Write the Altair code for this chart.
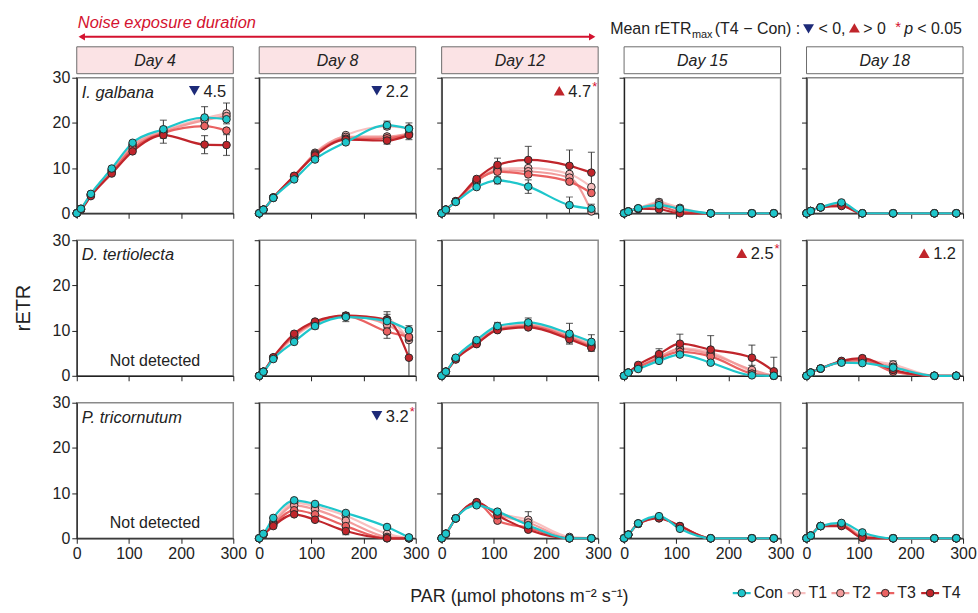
import altair as alt
import pandas as pd

FONT = "Liberation Sans"

PAR = [0, 8, 27, 67, 107, 166, 245, 287]
DRAW_ORDER = ["T1", "T2", "T3", "T4", "Con"]
LEGEND_ORDER = ["Con", "T1", "T2", "T3", "T4"]
SERIES_COLORS = ["#1ec6cb", "#f8c0c0", "#f29c9c", "#ea6262", "#c0252b"]
DAYS = ["Day 4", "Day 8", "Day 12", "Day 15", "Day 18"]
SPECIES = ["I. galbana", "D. tertiolecta", "P. tricornutum"]

# ---------------- I. galbana ----------------
ig_d4 = {
    "Con": [0, 1.0, 4.3, 9.9, 15.6, 18.6, 21.2, 20.8],
    "T1": [0, 1.0, 4.2, 9.6, 15.2, 18.3, 21.0, 22.1],
    "T2": [0, 0.9, 4.1, 9.4, 14.9, 18.0, 20.6, 21.5],
    "T3": [0, 0.9, 4.0, 9.1, 14.3, 17.8, 19.3, 18.3],
    "T4": [0, 0.8, 3.8, 8.8, 13.7, 17.3, 15.2, 15.1],
}
ig_d4_err = {
    "Con": [0, 0, 0, 0, 0, 2.0, 2.4, 0],
    "T1": [0, 0, 0, 0, 0, 0, 0, 2.3],
    "T4": [0, 0, 0, 0, 0, 1.8, 2.0, 2.3],
}
ig_d8 = {
    "Con": [0, 0.8, 3.4, 7.5, 11.9, 15.7, 19.5, 18.7],
    "T1": [0, 0.8, 3.5, 8.0, 13.4, 17.3, 19.2, 18.8],
    "T2": [0, 0.8, 3.5, 8.1, 13.2, 16.9, 17.0, 17.6],
    "T3": [0, 0.8, 3.5, 8.2, 13.0, 16.5, 16.6, 17.4],
    "T4": [0, 0.8, 3.4, 8.3, 12.8, 16.3, 16.1, 17.3],
}
ig_d8_err = {
    "Con": [0, 0, 0, 0, 0, 0, 0.9, 1.3],
    "T4": [0, 0, 0, 0, 0, 0, 0.8, 1.0],
}
ig_d12 = {
    "Con": [0, 0.8, 2.5, 5.8, 7.3, 5.9, 1.8, 1.0],
    "T1": [0, 0.8, 2.6, 7.0, 9.9, 10.0, 8.7, 5.8],
    "T2": [0, 0.8, 2.6, 7.0, 9.5, 9.3, 7.9, 0.4],
    "T3": [0, 0.8, 2.6, 7.2, 9.2, 8.6, 7.0, 4.5],
    "T4": [0, 0.8, 2.7, 7.6, 10.7, 11.8, 10.5, 9.0],
}
ig_d12_err = {
    "Con": [0, 0, 0, 0, 0.8, 1.5, 1.8, 1.0],
    "T4": [0, 0, 0, 0, 1.5, 3.0, 3.5, 4.5],
}
ig_d15 = {
    "Con": [0, 0.4, 1.1, 1.8, 1.0, 0, 0, 0],
    "T1": [0, 0.4, 1.1, 2.5, 1.2, 0, 0, 0],
    "T2": [0, 0.4, 1.0, 2.2, 0.8, 0, 0, 0],
    "T3": [0, 0.4, 1.0, 1.5, 0.3, 0, 0, 0],
    "T4": [0, 0.4, 1.0, 0.9, 0, 0, 0, 0],
}
ig_d15_err = {
    "Con": [0, 0, 0, 0.5, 0.7, 0, 0, 0],
    "T1": [0, 0, 0, 0.6, 0, 0, 0, 0],
}
ig_d18 = {
    "Con": [0, 0.5, 1.3, 2.4, 0, 0, 0, 0],
    "T1": [0, 0.5, 1.3, 2.1, 0, 0, 0, 0],
    "T2": [0, 0.5, 1.3, 2.0, 0, 0, 0, 0],
    "T3": [0, 0.5, 1.3, 1.8, 0, 0, 0, 0],
    "T4": [0, 0.5, 1.3, 1.6, 0, 0, 0, 0],
}
ig_d18_err = {"Con": [0, 0, 0, 0.3, 0, 0, 0, 0]}

# ---------------- D. tertiolecta ----------------
dt_d8 = {
    "Con": [0, 0.9, 3.7, 7.5, 11.0, 13.0, 12.1, 10.1],
    "T1": [0, 0.9, 3.9, 8.5, 11.6, 13.2, 12.5, 7.9],
    "T2": [0, 0.9, 4.0, 8.8, 11.8, 13.3, 11.3, 8.4],
    "T3": [0, 0.9, 4.0, 9.0, 11.8, 13.2, 9.8, 8.6],
    "T4": [0, 0.9, 4.1, 9.3, 12.0, 13.3, 12.4, 4.0],
}
dt_d8_err = {
    "Con": [0, 0, 0, 0, 0.6, 1.0, 1.5, 1.0],
    "T3": [0, 0, 0, 0, 0, 0, 1.5, 0],
    "T4": [0, 0, 0, 0, 0, 0, 1.8, 4.0],
}
dt_d12 = {
    "Con": [0, 0.9, 4.0, 7.9, 11.0, 11.8, 9.3, 7.5],
    "T1": [0, 0.9, 3.9, 7.6, 10.7, 11.4, 9.0, 7.0],
    "T2": [0, 0.9, 3.8, 7.4, 10.4, 11.2, 8.7, 6.7],
    "T3": [0, 0.9, 3.7, 7.2, 10.2, 11.0, 8.4, 6.4],
    "T4": [0, 0.9, 3.6, 7.0, 10.1, 10.7, 8.1, 6.2],
}
dt_d12_err = {
    "Con": [0, 0, 0, 0, 0.8, 1.0, 2.3, 1.6],
    "T4": [0, 0, 0, 0, 0, 0, 0.8, 0.8],
}
dt_d15 = {
    "Con": [0, 0.7, 1.5, 3.3, 4.7, 2.9, 0.1, 0],
    "T1": [0, 0.7, 1.8, 4.0, 6.1, 5.2, 1.0, 0],
    "T2": [0, 0.7, 1.9, 4.2, 5.9, 4.8, 1.3, 0],
    "T3": [0, 0.7, 1.9, 3.9, 5.3, 4.3, 0.5, 0],
    "T4": [0, 0.7, 2.4, 4.8, 7.1, 5.8, 4.0, 1.0],
}
dt_d15_err = {
    "T2": [0, 0, 0, 0, 0, 0, 1.0, 0],
    "T4": [0, 0, 0, 1.2, 2.1, 3.1, 2.8, 3.1],
}
dt_d18 = {
    "Con": [0, 0.7, 1.6, 2.9, 2.8, 1.8, 0, 0],
    "T1": [0, 0.7, 1.6, 3.1, 3.4, 2.5, 0, 0],
    "T2": [0, 0.7, 1.6, 3.0, 3.3, 2.0, 0, 0],
    "T3": [0, 0.7, 1.6, 3.1, 3.5, 0.9, 0, 0],
    "T4": [0, 0.7, 1.6, 3.3, 3.9, 1.3, 0, 0],
}
dt_d18_err = {
    "T1": [0, 0, 0, 0, 0, 0.8, 0, 0],
    "T4": [0, 0, 0, 0, 0.5, 0, 0, 0],
}

# ---------------- P. tricornutum ----------------
pt_d8 = {
    "Con": [0, 1.0, 4.5, 8.4, 7.6, 5.6, 2.5, 0.2],
    "T1": [0, 0.9, 3.6, 7.9, 7.1, 5.0, 1.0, 0],
    "T2": [0, 0.9, 3.3, 7.3, 6.4, 3.9, 0.3, 0],
    "T3": [0, 0.9, 3.0, 6.2, 5.3, 2.7, 0, 0],
    "T4": [0, 0.8, 2.7, 5.3, 4.1, 1.6, 0, 0],
}
pt_d8_err = {"T4": [0, 0, 0, 0, 0, 0.8, 0, 0]}
pt_d12 = {
    "Con": [0, 1.0, 4.4, 7.3, 5.9, 2.9, 0, 0],
    "T1": [0, 1.0, 4.4, 7.6, 5.6, 4.1, 0.3, 0],
    "T2": [0, 1.0, 4.4, 7.9, 5.3, 3.5, 0, 0],
    "T3": [0, 1.0, 4.4, 7.8, 3.9, 2.3, 0, 0],
    "T4": [0, 1.0, 4.4, 8.0, 5.1, 1.9, 0, 0],
}
pt_d12_err = {"T1": [0, 0, 0, 0, 0.6, 1.8, 0, 0]}
pt_d15 = {
    "Con": [0, 0.8, 3.3, 4.9, 2.1, 0, 0, 0],
    "T1": [0, 0.8, 3.3, 4.7, 2.5, 0, 0, 0],
    "T2": [0, 0.8, 3.2, 4.6, 2.6, 0, 0, 0],
    "T3": [0, 0.8, 3.2, 4.5, 2.7, 0, 0, 0],
    "T4": [0, 0.8, 3.2, 4.4, 2.7, 0, 0, 0],
}
pt_d15_err = {}
pt_d18 = {
    "Con": [0, 0.6, 2.7, 3.4, 1.3, 0, 0, 0],
    "T1": [0, 0.6, 2.7, 3.2, 0.6, 0, 0, 0],
    "T2": [0, 0.6, 2.7, 3.0, 0.4, 0, 0, 0],
    "T3": [0, 0.6, 2.7, 3.0, 0.2, 0, 0, 0],
    "T4": [0, 0.6, 2.7, 2.7, 0.1, 0, 0, 0],
}
pt_d18_err = {}

PANELS = {
    (0, 0): (ig_d4, ig_d4_err), (0, 1): (ig_d8, ig_d8_err), (0, 2): (ig_d12, ig_d12_err),
    (0, 3): (ig_d15, ig_d15_err), (0, 4): (ig_d18, ig_d18_err),
    (1, 1): (dt_d8, dt_d8_err), (1, 2): (dt_d12, dt_d12_err),
    (1, 3): (dt_d15, dt_d15_err), (1, 4): (dt_d18, dt_d18_err),
    (2, 1): (pt_d8, pt_d8_err), (2, 2): (pt_d12, pt_d12_err),
    (2, 3): (pt_d15, pt_d15_err), (2, 4): (pt_d18, pt_d18_err),
}

# Mean rETRmax (T4 - Con): direction, value, significant
ANNOT = {
    (0, 0): ("down", "4.5", False),
    (0, 1): ("down", "2.2", False),
    (0, 2): ("up", "4.7", True),
    (1, 3): ("up", "2.5", True),
    (1, 4): ("up", "1.2", False),
    (2, 1): ("down", "3.2", True),
}

NAVY = "#1d2a78"
DARKRED = "#c0252b"
ACCENT = "#d4122f"
INK = "#222222"

W, H = 157, 136
DUMMY = pd.DataFrame({"d": [0]})
xs = alt.Scale(domain=[0, 300], nice=False, zero=False)
ys = alt.Scale(domain=[0, 30], nice=False)
cscale = alt.Scale(domain=LEGEND_ORDER, range=SERIES_COLORS)


def long_df(vals):
    rows = []
    for s in DRAW_ORDER:
        for p, v in zip(PAR, vals[s]):
            rows.append({"series": s, "par": p, "retr": v})
    return pd.DataFrame(rows)


def err_df(vals, errs):
    rows = []
    for s, el in errs.items():
        for p, v, e in zip(PAR, vals[s], el):
            if e > 0:
                rows.append({"series": s, "par": p, "lo": max(0.0, v - e), "hi": v + e})
    return pd.DataFrame(rows, columns=["series", "par", "lo", "hi"])


def tx(text, x, y, size=16, color=INK, style="normal", align="left", baseline="alphabetic", angle=0):
    return alt.Chart(DUMMY).mark_text(text=text, font=FONT, fontSize=size, color=color, fontStyle=style,
                                      align=align, baseline=baseline, angle=angle).encode(
        x=alt.value(x), y=alt.value(y))


def sym(shape, x, y, color, size=100):
    return alt.Chart(DUMMY).mark_point(shape=shape, filled=True, size=size, opacity=1, color=color,
                                       strokeWidth=0).encode(x=alt.value(x), y=alt.value(y))


def top_decor():
    # invisible frame fixing the page extent (0,0)-(978,613) relative to the first panel
    frame = alt.Chart(DUMMY).mark_rect(opacity=0).encode(
        x=alt.value(-76), x2=alt.value(902), y=alt.value(-76), y2=alt.value(537))
    return [
        frame,
        tx("Noise exposure duration", 1, -50, size=16.5, color=ACCENT, style="italic"),
        alt.Chart(DUMMY).mark_rule(color=ACCENT, strokeWidth=2).encode(
            x=alt.value(4), x2=alt.value(518), y=alt.value(-41)),
        sym("triangle-left", 5, -41, ACCENT, 55),
        sym("triangle-right", 517, -41, ACCENT, 55),
        tx("Mean rETR", 535, -44),
        tx("max", 617, -40, size=11),
        tx("(T4 − Con) :", 640, -44),
        sym("triangle-down", 734, -49, NAVY, 120),
        tx("< 0,", 744, -44),
        sym("triangle-up", 780, -50, DARKRED, 120),
        tx("> 0", 789, -44),
        tx("*", 821, -46, size=15, color=ACCENT),
        tx("p", 830, -44, style="italic"),
        tx("< 0.05", 843, -44),
    ]


LEG_CX = [667, 722, 766, 811, 856]
legend_df = pd.DataFrame({
    "series": LEGEND_ORDER,
    "cx": LEG_CX,
    "x1": [v - 9 for v in LEG_CX],
    "x2": [v + 9 for v in LEG_CX],
    "tx": [v + 12 for v in LEG_CX],
})


def bottom_decor():
    ly = 191
    return [
        tx("PAR (µmol photons m⁻² s⁻¹)", 444, 200, size=18, align="center"),
        alt.Chart(legend_df).mark_rule(strokeWidth=2.2).encode(
            x=alt.X("x1:Q", scale=None), x2="x2:Q", y=alt.value(ly),
            color=alt.Color("series:N", scale=cscale, legend=None)),
        alt.Chart(legend_df).mark_circle(size=58, stroke="#2a2a2a", strokeWidth=1, opacity=1).encode(
            x=alt.X("cx:Q", scale=None), y=alt.value(ly),
            fill=alt.Fill("series:N", scale=cscale, legend=None)),
        alt.Chart(legend_df).mark_text(font=FONT, fontSize=16, color=INK, align="left", baseline="middle").encode(
            x=alt.X("tx:Q", scale=None), y=alt.value(ly), text="series:N"),
    ]


def make_panel(r, c):
    xaxis = alt.Axis(values=[0, 100, 200, 300], labels=(r == 2), title=None, labelFlush=False)
    yaxis = alt.Axis(values=[0, 10, 20, 30], labels=(c == 0), title=None)
    layers = []
    if r == 0 and c == 0:
        layers += top_decor()
    if r == 0:
        fill = "#fbe3e5" if c < 3 else "#ffffff"
        layers.append(alt.Chart(DUMMY).mark_rect(fill=fill, stroke="#6b6b6b", strokeWidth=1).encode(
            x=alt.value(0), x2=alt.value(W), y=alt.value(-31), y2=alt.value(-4)))
        layers.append(tx(DAYS[c], W / 2, -17, size=16, style="italic", align="center", baseline="middle"))
    if (r, c) in PANELS:
        vals, errs = PANELS[(r, c)]
        df = long_df(vals)
        for s in DRAW_ORDER:
            layers.append(
                alt.Chart(df[df.series == s]).mark_line(interpolate="monotone", strokeWidth=2.2).encode(
                    x=alt.X("par:Q", scale=xs, axis=xaxis),
                    y=alt.Y("retr:Q", scale=ys, axis=yaxis),
                    color=alt.Color("series:N", scale=cscale, legend=None),
                )
            )
        edf = err_df(vals, errs)
        if len(edf):
            layers.append(
                alt.Chart(edf).mark_rule(color="#333333", strokeWidth=1).encode(
                    x=alt.X("par:Q", scale=xs, axis=xaxis),
                    y=alt.Y("lo:Q", scale=ys, axis=yaxis),
                    y2="hi:Q",
                )
            )
            layers.append(
                alt.Chart(edf).mark_tick(orient="horizontal", size=7, thickness=1.2, color="#333333").encode(
                    x=alt.X("par:Q", scale=xs, axis=xaxis),
                    y=alt.Y("hi:Q", scale=ys, axis=yaxis),
                )
            )
            lodf = edf[edf.lo > 0]
            if len(lodf):
                layers.append(
                    alt.Chart(lodf).mark_tick(orient="horizontal", size=7, thickness=1.2, color="#333333").encode(
                        x=alt.X("par:Q", scale=xs, axis=xaxis),
                        y=alt.Y("lo:Q", scale=ys, axis=yaxis),
                    )
                )
        layers.append(
            alt.Chart(df).mark_circle(size=58, stroke="#2a2a2a", strokeWidth=1, opacity=1).encode(
                x=alt.X("par:Q", scale=xs, axis=xaxis),
                y=alt.Y("retr:Q", scale=ys, axis=yaxis),
                fill=alt.Fill("series:N", scale=cscale, legend=None),
            )
        )
    else:
        nd = pd.DataFrame({"par": [150], "retr": [3.3], "label": ["Not detected"]})
        layers.append(
            alt.Chart(nd).mark_text(font=FONT, fontSize=16, color=INK, baseline="middle").encode(
                x=alt.X("par:Q", scale=xs, axis=xaxis),
                y=alt.Y("retr:Q", scale=ys, axis=yaxis),
                text="label:N",
            )
        )
    if c == 0:
        layers.append(tx(SPECIES[r], 5, 15, size=16.5, style="italic", baseline="middle"))
    if r == 1 and c == 0:
        layers.append(tx("rETR", -53, 68, size=20, align="center", baseline="middle", angle=270))
    if r == 2 and c == 0:
        layers += bottom_decor()
    if (r, c) in ANNOT:
        d, v, sig = ANNOT[(r, c)]
        layers.append(sym("triangle-down" if d == "down" else "triangle-up", 118, 13,
                          NAVY if d == "down" else DARKRED, 120))
        layers.append(tx(v, 127, 14, size=16.5, baseline="middle"))
        if sig:
            layers.append(tx("*", 151, 9, size=13, color=ACCENT, baseline="middle"))
    return alt.layer(*layers).properties(width=W, height=H)


panels = [make_panel(r, c) for r in range(3) for c in range(5)]

chart = alt.concat(*panels, columns=5, spacing={"row": 27, "column": 26}, bounds="flush").properties(
    padding=0
).configure_view(
    stroke="#8a8a8a", strokeWidth=1.5
).configure_axis(
    labelFont=FONT, labelFontSize=16, labelColor=INK, tickColor=INK, domainColor=INK,
    domainWidth=1.2, tickSize=5, labelPadding=2, grid=False
)

chart.save("out.html", embed_options={"renderer": "svg", "actions": False})
